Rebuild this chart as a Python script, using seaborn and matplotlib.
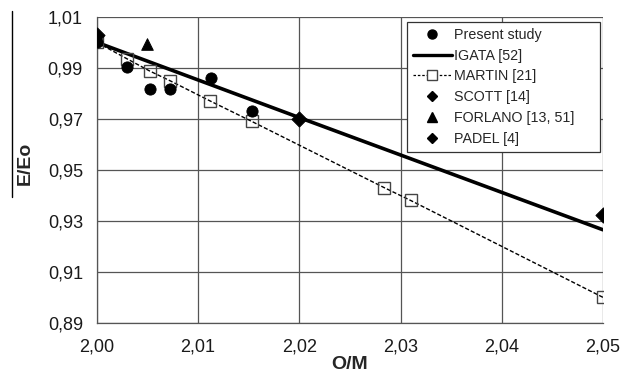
import numpy as np
import pandas as pd
import matplotlib
matplotlib.use("Agg")
import matplotlib.pyplot as plt
from matplotlib.ticker import FuncFormatter
from matplotlib.lines import Line2D
import seaborn as sns

sns.set_style("whitegrid")
plt.rcParams['font.family'] = ['Liberation Sans', 'DejaVu Sans']

# data
present_x = [2.000, 2.003, 2.0052, 2.0072, 2.0113, 2.0153]
present_y = [1.000, 0.9905, 0.9816, 0.9816, 0.9862, 0.9730]

igata_x = [2.000, 2.020, 2.050]
igata_y = [1.000, 0.9705, 0.9265]

martin_x = [2.000, 2.003, 2.0052, 2.0072, 2.0112, 2.0153, 2.0284, 2.031, 2.050]
martin_y = [1.000, 0.9935, 0.9888, 0.9850, 0.9770, 0.9690, 0.9430, 0.9380, 0.900]

scott_x = [2.000]
scott_y = [1.003]

forlano_x = [2.005]
forlano_y = [0.9995]

padel_x = [2.020, 2.050]
padel_y = [0.970, 0.9323]

xticks = [2.00, 2.01, 2.02, 2.03, 2.04, 2.05]
yticks = [0.89, 0.91, 0.93, 0.95, 0.97, 0.99, 1.01]

fig, ax = plt.subplots(figsize=(6.21, 3.83), dpi=100)
fig.subplots_adjust(left=0.156, right=0.971, top=0.956, bottom=0.157)

sns.lineplot(x=igata_x, y=igata_y, ax=ax, color="black", lw=2.6, label="IGATA [52]", zorder=3)
sns.lineplot(x=martin_x, y=martin_y, ax=ax, color="black", lw=1.0, linestyle=(0, (3, 1.5)),
             marker="s", markersize=8.5, markerfacecolor="none", markeredgecolor="#444444",
             markeredgewidth=1.0, label="MARTIN [21]", zorder=4)
sns.scatterplot(x=present_x, y=present_y, ax=ax, color="black", s=65, marker="o",
                edgecolor="black", label="Present study", zorder=5)
sns.scatterplot(x=scott_x, y=scott_y, ax=ax, color="black", s=60, marker="D",
                edgecolor="black", label="SCOTT [14]", zorder=5)
sns.scatterplot(x=forlano_x, y=forlano_y, ax=ax, color="black", s=70, marker="^",
                edgecolor="black", label="FORLANO [13, 51]", zorder=5)
sns.scatterplot(x=padel_x, y=padel_y, ax=ax, color="black", s=60, marker="D",
                edgecolor="black", label="PADEL [4]", zorder=5)

ax.set_xlim(2.00, 2.05)
ax.set_ylim(0.89, 1.01)
ax.set_xticks(xticks)
ax.set_yticks(yticks)
ax.xaxis.set_major_formatter(FuncFormatter(lambda v, p: f"{v:.2f}".replace(".", ",")))
ax.yaxis.set_major_formatter(FuncFormatter(lambda v, p: f"{v:.2f}".replace(".", ",")))
ax.tick_params(axis="both", labelsize=13, colors="#1a1a1a", length=4, width=0.8,
               direction="out", color="#555555")
ax.tick_params(axis="x", pad=7)
ax.tick_params(axis="y", pad=6)
ax.grid(True, color="#555555", lw=0.9)
for side in ["top", "right"]:
    ax.spines[side].set_visible(False)
for side in ["left", "bottom"]:
    ax.spines[side].set_color("#555555")
    ax.spines[side].set_linewidth(0.9)

ax.set_xlabel("O/M", fontsize=14, fontweight="bold")
ax.set_ylabel("E/Eo", fontsize=14, fontweight="bold")
ax.xaxis.set_label_coords(0.5, -0.108)
ax.yaxis.set_label_coords(-0.125, 0.52)

handles = [
    Line2D([], [], color="black", marker="o", linestyle="none", markersize=6.5),
    Line2D([], [], color="black", lw=2.4),
    Line2D([], [], color="black", lw=0.9, linestyle=(0, (2, 1.5)), marker="s",
           markersize=6.5, markerfacecolor="white", markeredgecolor="#444444"),
    Line2D([], [], color="black", marker="D", linestyle="none", markersize=5),
    Line2D([], [], color="black", marker="^", linestyle="none", markersize=7),
    Line2D([], [], color="black", marker="D", linestyle="none", markersize=5),
]
labels = ["Present study", "IGATA [52]", "MARTIN [21]", "SCOTT [14]", "FORLANO [13, 51]", "PADEL [4]"]
leg = ax.legend(handles, labels, loc="upper left", bbox_to_anchor=(0.613, 0.0, 0.381, 0.984),
                mode="expand", fontsize=10.3, frameon=True, fancybox=False, framealpha=1,
                edgecolor="#333333", handlelength=2.7, handletextpad=0.15,
                labelspacing=0.48, borderpad=0.42, borderaxespad=0)
leg.get_frame().set_linewidth(0.9)

# vertical rule left of the y label, as in the source page
fig.add_artist(Line2D([0.02, 0.02], [0.485, 0.97], transform=fig.transFigure,
                      color="black", lw=1.0))

fig.savefig("out.png", dpi=100)
